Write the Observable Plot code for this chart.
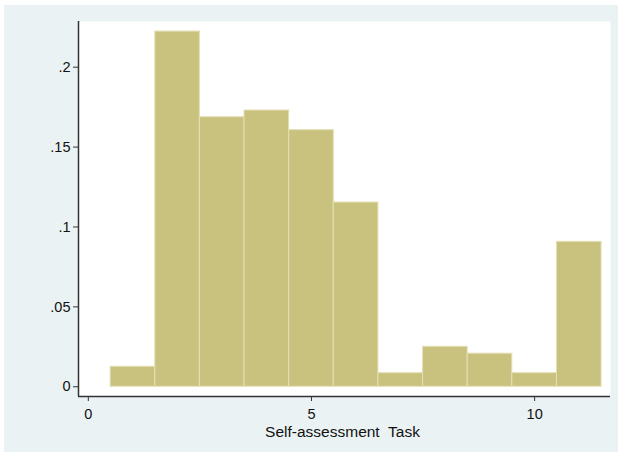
<!DOCTYPE html>
<html>
<head>
<meta charset="utf-8">
<script src="https://cdn.jsdelivr.net/npm/d3@7"></script>
<script src="https://cdn.jsdelivr.net/npm/@observablehq/plot@0.6"></script>
<style>
  html, body { margin: 0; padding: 0; background: #ffffff; }
  #wrap { position: absolute; left: 4px; top: 5px; }
  svg { font-family: "Liberation Sans", Arial, sans-serif; }
</style>
</head>
<body>
<div id="wrap"></div>
<script>
const bins = [1, 2, 3, 4, 5, 6, 7, 8, 9, 10, 11];
const density = [0.0125, 0.2223, 0.1687, 0.1729, 0.1606, 0.1153, 0.0085, 0.025, 0.0207, 0.0085, 0.0907];
const xTicks = [0, 5, 10];
const yTicks = [0, 0.05, 0.1, 0.15, 0.2];
const xLabel = "Self-assessment\u00a0 Task";

const data = bins.map((b, i) => ({x1: b - 0.5, x2: b + 0.5, y: density[i]}));
const xDom = [-0.22, 11.70];
const yDom = [-0.0061, 0.2286];
const fmtY = d => d === 0 ? "0" : String(d).replace(/^0/, "");

const chart = Plot.plot({
  width: 614,
  height: 447,
  marginLeft: 74,
  marginRight: 8,
  marginTop: 16,
  marginBottom: 56,
  style: {background: "#eaf2f3", fontSize: "14px", fontFamily: "Liberation Sans, Arial, sans-serif", color: "#111"},
  x: {domain: xDom},
  y: {domain: yDom},
  marks: [
    Plot.frame({fill: "#ffffff", stroke: "none"}),
    Plot.rectY(data, {x1: "x1", x2: "x2", y1: 0, y2: "y", fill: "#c9c27f", stroke: "#e4dfb4", strokeWidth: 1, inset: 0}),
    Plot.axisY({ticks: yTicks, tickFormat: fmtY, tickSize: 5, tickPadding: 3, stroke: "#333", label: null, fontSize: 14.5}),
    Plot.axisX({ticks: xTicks, tickFormat: d => String(d), tickSize: 5, tickPadding: 7, stroke: "#333", label: null, fontSize: 14.5}),
    Plot.ruleX([xDom[0]], {stroke: "#333", strokeWidth: 1.5}),
    Plot.ruleY([yDom[0]], {stroke: "#333", strokeWidth: 1.5}),
    Plot.text([xLabel], {frameAnchor: "bottom", dx: -2, dy: 40, lineAnchor: "bottom", fontSize: 15.5, fill: "#111"})
  ]
});
document.getElementById("wrap").appendChild(chart);
</script>
</body>
</html>
